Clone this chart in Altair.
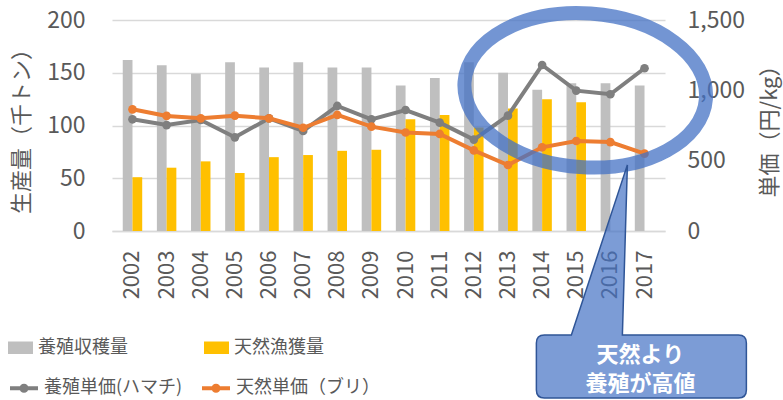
import altair as alt
import pandas as pd

# ---- data ----
years = ["2002", "2003", "2004", "2005", "2006", "2007", "2008", "2009",
         "2010", "2011", "2012", "2013", "2014", "2015", "2016", "2017"]
farmed_volume = [162, 157, 149, 160, 155, 160, 155, 155, 138, 145, 160, 150, 134, 140, 140, 138]
wild_catch = [51, 60, 66, 55, 70, 72, 76, 77, 106, 110, 98, 116, 125, 122, None, None]
farmed_price = [794, 753, 789, 666, 801, 711, 889, 794, 860, 770, 650, 820, 1180, 998, 972, 1157]
wild_price = [865, 818, 801, 820, 801, 734, 825, 742, 700, 690, 573, 469, 595, 640, 632, 550]

bar_series = ["養殖収穫量", "天然漁獲量"]
line_series = ["養殖単価(ハマチ)", "天然単価（ブリ）"]
bar_colors = ["#BFBFBF", "#FFC000"]
line_colors = ["#7F7F7F", "#ED7D31"]

FONT = "Noto Sans CJK JP"
TXT = "#595959"

rows = []
for y, a, b in zip(years, farmed_volume, wild_catch):
    rows.append({"year": y, "series": bar_series[0], "value": a})
    if b is not None:
        rows.append({"year": y, "series": bar_series[1], "value": b})
bars_df = pd.DataFrame(rows)

lrows = []
for y, a, b in zip(years, farmed_price, wild_price):
    lrows.append({"year": y, "lseries": line_series[0], "price": a})
    lrows.append({"year": y, "lseries": line_series[1], "price": b})
lines_df = pd.DataFrame(lrows)

one = pd.DataFrame({"k": [0]})

x_enc = alt.X(
    "year:N",
    scale=alt.Scale(paddingInner=0.43, paddingOuter=0.315),
    axis=alt.Axis(title=None, labelAngle=270, labelFontSize=22, labelColor=TXT,
                  labelPadding=19, ticks=False, domainColor="#D9D9D9",
                  domainWidth=1.5, grid=False),
)

bars = alt.Chart(bars_df).mark_bar().encode(
    x=x_enc,
    xOffset=alt.XOffset("series:N", sort=bar_series, scale=alt.Scale(domain=bar_series)),
    y=alt.Y("value:Q", scale=alt.Scale(domain=[0, 200], nice=False),
            axis=alt.Axis(title="生産量（千トン）", values=[0, 50, 100, 150, 200],
                          orient="left", domain=False, ticks=False, grid=True,
                          gridColor="#D9D9D9", gridWidth=1.5,
                          labelFontSize=23, labelColor=TXT, labelPadding=27,
                          titleFontSize=22, titleColor=TXT, titleFontWeight="normal",
                          titlePadding=13)),
    fill=alt.Fill("series:N", sort=bar_series,
                  scale=alt.Scale(domain=bar_series, range=bar_colors),
                  legend=alt.Legend(orient="none", legendX=-104, legendY=315,
                                    direction="horizontal", columns=2, title=None,
                                    symbolType="M-1,-0.5H1V0.5H-1Z", symbolSize=625,
                                    symbolStrokeWidth=0, labelFontSize=18,
                                    labelColor=TXT, labelOffset=5, columnPadding=76,
                                    padding=0)),
)

price_scale = alt.Scale(domain=[0, 1500], nice=False)

y_price = alt.Y("price:Q", scale=price_scale,
                axis=alt.Axis(title="単価（円/kg）", values=[0, 500, 1000, 1500],
                              format=",.0f", orient="right", domain=False, ticks=False,
                              grid=False, labelFontSize=23, labelColor=TXT,
                              labelPadding=22, titleFontSize=22, titleColor=TXT,
                              titleFontWeight="normal", titleAngle=270,
                              titleBaseline="top", titlePadding=15))

color_enc = alt.Color("lseries:N", sort=line_series,
                      scale=alt.Scale(domain=line_series, range=line_colors),
                      legend=alt.Legend(orient="none", legendX=-104, legendY=352,
                                        direction="horizontal", columns=2, title=None,
                                        symbolType="M-1,0H1M-0.18,0A0.18,0.18 0 1,1 0.18,0A0.18,0.18 0 1,1 -0.18,0",
                                        symbolSize=784, symbolStrokeWidth=4,
                                        labelFontSize=18, labelColor=TXT,
                                        labelOffset=4, columnPadding=11, padding=0))

def price_line(name):
    return alt.Chart(lines_df).transform_filter(
        alt.datum.lseries == name
    ).mark_line(strokeWidth=4, point=alt.OverlayMarkDef(size=75, filled=True)).encode(
        x=x_enc, y=y_price, color=color_enc
    )

gray_line = price_line(line_series[0])
orange_line = price_line(line_series[1])

# ellipse highlight (anchored to the data scales)
b = 0.636
k = 0.5523
kb = round(k * b, 4)
ell = (f"M1,0C1,{kb} {k},{b} 0,{b}C{-k},{b} -1,{kb} -1,0"
       f"C-1,{-kb} {-k},{-b} 0,{-b}C{k},{-b} 1,{-kb} 1,0Z")
ellipse = alt.Chart(one).mark_point(
    shape=ell, size=58564, filled=False, stroke="#4472C4", strokeWidth=14,
    strokeOpacity=0.75, opacity=1, angle=4, xOffset=9
).encode(x=alt.XDatum("2015", type="nominal"),
         y=alt.YDatum(1000, type="quantitative", scale=price_scale))

# callout bubble (tip anchored on the data scales)
callout_path = ("M-0.83,1.7L-0.56,1.7L0,0L-0.05,1.7L1.11,1.7Q1.19,1.7 1.19,1.78"
                "L1.19,2.25Q1.19,2.33 1.11,2.33L-0.83,2.33Q-0.91,2.33 -0.91,2.25"
                "L-0.91,1.78Q-0.91,1.7 -0.83,1.7Z")
callout = alt.Chart(one).mark_point(
    shape=callout_path, size=40000, filled=True, fill="#4472C4", fillOpacity=0.7,
    stroke="#2F5597", strokeWidth=1.5, strokeOpacity=1, opacity=1, xOffset=17
).encode(x=alt.XDatum("2016", type="nominal"),
         y=alt.YDatum(470, type="quantitative", scale=price_scale))

callout_lines = ["天然より", "養殖が高値"]
callout_text1 = alt.Chart(one).mark_text(
    text=callout_lines[0], font=FONT, fontSize=22, fontWeight="bold", color="white",
    xOffset=30, yOffset=190
).encode(x=alt.XDatum("2016", type="nominal"),
         y=alt.YDatum(470, type="quantitative", scale=price_scale))
callout_text2 = alt.Chart(one).mark_text(
    text=callout_lines[1], font=FONT, fontSize=22, fontWeight="bold", color="white",
    xOffset=30, yOffset=219
).encode(x=alt.XDatum("2016", type="nominal"),
         y=alt.YDatum(470, type="quantitative", scale=price_scale))

lines_group = alt.layer(gray_line, orange_line, ellipse, callout, callout_text1, callout_text2)

chart = alt.layer(bars, lines_group).resolve_scale(
    y="independent"
).properties(
    width=553, height=211,
    title=alt.Title("養殖ぶり・天然ぶりの生産量比較", fontSize=22, fontWeight="bold",
                    color="#262626", offset=11, dy=18, anchor="middle",
                    frame="group", baseline="bottom"),
    autosize=alt.AutoSizeParams(type="none"),
    padding={"left": 112, "top": 20, "right": 118, "bottom": 169},
).configure(
    font=FONT
).configure_view(
    strokeWidth=0
)

chart.save("out.html", embed_options={"renderer": "svg", "actions": False})
